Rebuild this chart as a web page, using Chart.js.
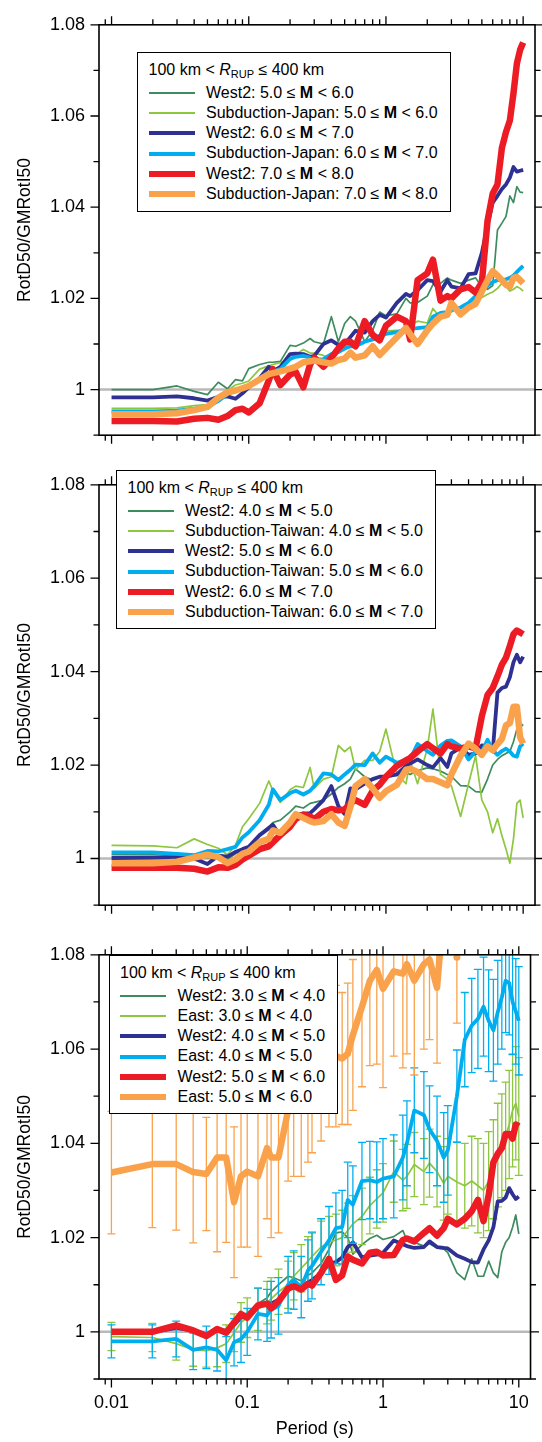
<!DOCTYPE html>
<html lang="en">
<head>
<meta charset="utf-8">
<title>RotD50/GMRotI50</title>
<script src="https://cdn.jsdelivr.net/npm/chart.js@4/dist/chart.umd.min.js"></script>
<style>
  html, body { margin: 0; padding: 0; background: #fff; }
  #page { position: relative; width: 542px; height: 1442px; overflow: hidden;
          font-family: 'Liberation Sans', Arial, Helvetica, sans-serif; color: #000; }
  #page canvas { position: absolute; left: 0; }
  .legend { position: absolute; box-sizing: border-box; border: 1.6px solid #000; background: #fff;
            padding: 7px 0 0 10.5px; font-size: 16px; line-height: 20.3px; white-space: nowrap; }
  .legend .head { height: 20.3px; margin-bottom: 2.3px; }
  .legend .head sub { font-size: 11px; line-height: 0; vertical-align: -3px; }
  .legend .row { display: flex; align-items: center; height: 20.3px; }
  .legend .swatch { display: inline-block; width: 46px; margin-right: 11.5px; flex: none; }
</style>
</head>
<body>
<div id="page">
  <canvas id="chart1" width="542" height="460" style="top:0"></canvas>
  <canvas id="chart2" width="542" height="470" style="top:460px"></canvas>
  <canvas id="chart3" width="542" height="512" style="top:930px"></canvas>
  <div class="legend" id="legend1" style="left:137px;top:52px;width:313.5px;height:160px"></div>
  <div class="legend" id="legend2" style="left:116px;top:470px;width:320px;height:159px"></div>
  <div class="legend" id="legend3" style="left:108.5px;top:955px;width:229px;height:158.5px"></div>
</div>
<script>
// spectral periods (s) shared by every curve
const periods = [0.01, 0.02, 0.03, 0.04, 0.05, 0.06, 0.07, 0.08, 0.09, 0.1,
  0.12, 0.14, 0.15, 0.17, 0.2, 0.22, 0.25, 0.28, 0.3, 0.35,
  0.4, 0.45, 0.5, 0.55, 0.6, 0.7, 0.8, 0.9, 1, 1.2,
  1.4, 1.5, 1.7, 2, 2.2, 2.5, 2.8, 3, 3.5, 4,
  4.5, 5, 5.5, 6, 6.5, 7, 7.5, 8, 8.5, 9, 9.5, 10];

// axes
const xMin = 0.0081, xMax = 12.2;
const yMin = 0.99, yMax = 1.08;
const xMajorTicks = [0.01, 0.1, 1, 10];
const xMinorTicks = [0.009, 0.02, 0.03, 0.04, 0.05, 0.06, 0.07, 0.08, 0.09,
  0.2, 0.3, 0.4, 0.5, 0.6, 0.7, 0.8, 0.9, 2, 3, 4, 5, 6, 7, 8, 9];
const yMajorTicks = [1, 1.02, 1.04, 1.06, 1.08];
const yMinorTicks = [0.99, 1.01, 1.03, 1.05, 1.07];

// top panel: West2 vs Subduction-Japan
const japanLabels = ['West2: 5.0 ≤ M < 6.0', 'Subduction-Japan: 5.0 ≤ M < 6.0', 'West2: 6.0 ≤ M < 7.0',
  'Subduction-Japan: 6.0 ≤ M < 7.0', 'West2: 7.0 ≤ M < 8.0', 'Subduction-Japan: 7.0 ≤ M < 8.0'];
const jpWest2M5 = [1.0000, 1.0000, 1.0008, 0.9996, 0.9989, 1.0016, 1.0002, 1.0022, 1.0019, 1.0046,
  1.0055, 1.0060, 1.0060, 1.0062, 1.0097, 1.0095, 1.0102, 1.0112, 1.0105, 1.0100,
  1.0160, 1.0105, 1.0145, 1.0160, 1.0150, 1.0105, 1.0130, 1.0170, 1.0162, 1.0166,
  1.0200, 1.0190, 1.0191, 1.0205, 1.0230, 1.0233, 1.0245, 1.0240, 1.0233, 1.0240,
  1.0245, 1.0225, 1.0220, 1.0228, 1.0350, 1.0365, 1.0380, 1.0425, 1.0410, 1.0445, 1.0433, 1.0432];
const jpSubM5 = [0.9959, 0.9959, 0.9960, 0.9965, 0.9967, 0.9987, 0.9998, 1.0010, 1.0014, 1.0019,
  1.0045, 1.0052, 1.0055, 1.0059, 1.0068, 1.0077, 1.0088, 1.0080, 1.0080, 1.0075,
  1.0067, 1.0085, 1.0095, 1.0098, 1.0102, 1.0105, 1.0108, 1.0112, 1.0129, 1.0130,
  1.0125, 1.0140, 1.0150, 1.0146, 1.0178, 1.0157, 1.0165, 1.0170, 1.0181, 1.0184,
  1.0195, 1.0202, 1.0209, 1.0214, 1.0222, 1.0233, 1.0226, 1.0216, 1.0220, 1.0226, 1.0222, 1.0216];
const jpWest2M6 = [0.9983, 0.9983, 0.9985, 0.9981, 0.9976, 0.9984, 0.9985, 0.9980, 0.9992, 1.0005,
  1.0025, 1.0050, 1.0040, 1.0050, 1.0078, 1.0079, 1.0078, 1.0072, 1.0074, 1.0100,
  1.0108, 1.0098, 1.0100, 1.0115, 1.0129, 1.0125, 1.0150, 1.0164, 1.0158, 1.0190,
  1.0210, 1.0205, 1.0218, 1.0240, 1.0238, 1.0215, 1.0240, 1.0226, 1.0222, 1.0253,
  1.0255, 1.0300, 1.0360, 1.0410, 1.0425, 1.0440, 1.0450, 1.0465, 1.0488, 1.0478, 1.0480, 1.0482];
const jpSubM6 = [0.9952, 0.9952, 0.9954, 0.9958, 0.9962, 0.9975, 0.9990, 1.0000, 1.0003, 1.0008,
  1.0022, 1.0035, 1.0040, 1.0045, 1.0067, 1.0072, 1.0074, 1.0070, 1.0066, 1.0067,
  1.0078, 1.0082, 1.0090, 1.0095, 1.0095, 1.0105, 1.0110, 1.0118, 1.0122, 1.0126,
  1.0132, 1.0133, 1.0135, 1.0137, 1.0160, 1.0168, 1.0170, 1.0175, 1.0180, 1.0190,
  1.0205, 1.0215, 1.0228, 1.0236, 1.0240, 1.0240, 1.0242, 1.0245, 1.0250, 1.0258, 1.0265, 1.0271];
const jpWest2M7 = [0.9931, 0.9931, 0.9930, 0.9936, 0.9938, 0.9934, 0.9942, 0.9955, 0.9958, 0.9950,
  0.9970, 1.0020, 1.0045, 1.0010, 1.0033, 1.0039, 1.0005, 1.0055, 1.0070, 1.0050,
  1.0070, 1.0090, 1.0105, 1.0105, 1.0095, 1.0150, 1.0120, 1.0108, 1.0140, 1.0160,
  1.0150, 1.0110, 1.0240, 1.0255, 1.0285, 1.0195, 1.0205, 1.0200, 1.0220, 1.0225,
  1.0213, 1.0235, 1.0370, 1.0430, 1.0450, 1.0530, 1.0565, 1.0590, 1.0650, 1.0715, 1.0745, 1.0761];
const jpSubM7 = [0.9946, 0.9946, 0.9948, 0.9955, 0.9962, 0.9982, 0.9994, 0.9998, 1.0003, 1.0008,
  1.0022, 1.0034, 1.0036, 1.0040, 1.0046, 1.0050, 1.0060, 1.0062, 1.0064, 1.0060,
  1.0057, 1.0065, 1.0068, 1.0081, 1.0070, 1.0075, 1.0095, 1.0076, 1.0090, 1.0115,
  1.0135, 1.0122, 1.0100, 1.0130, 1.0145, 1.0160, 1.0164, 1.0190, 1.0165, 1.0180,
  1.0188, 1.0215, 1.0240, 1.0260, 1.0250, 1.0240, 1.0230, 1.0226, 1.0245, 1.0247, 1.0240, 1.0233];

// middle panel: West2 vs Subduction-Taiwan
const taiwanLabels = ['West2: 4.0 ≤ M < 5.0', 'Subduction-Taiwan: 4.0 ≤ M < 5.0', 'West2: 5.0 ≤ M < 6.0',
  'Subduction-Taiwan: 5.0 ≤ M < 6.0', 'West2: 6.0 ≤ M < 7.0', 'Subduction-Taiwan: 6.0 ≤ M < 7.0'];
const twWest2M4 = [1.0008, 1.0008, 1.0006, 1.0004, 1.0002, 1.0000, 0.9998, 1.0010, 1.0018, 1.0025,
  1.0050, 1.0068, 1.0077, 1.0082, 1.0100, 1.0112, 1.0108, 1.0118, 1.0120, 1.0125,
  1.0138, 1.0152, 1.0160, 1.0170, 1.0192, 1.0175, 1.0168, 1.0175, 1.0177, 1.0178,
  1.0185, 1.0180, 1.0188, 1.0194, 1.0192, 1.0187, 1.0180, 1.0176, 1.0156, 1.0155,
  1.0143, 1.0142, 1.0170, 1.0200, 1.0212, 1.0220, 1.0225, 1.0229, 1.0250, 1.0277, 1.0280, 1.0287];
const twSubM4 = [1.0028, 1.0027, 1.0023, 1.0042, 1.0030, 1.0022, 1.0008, 1.0028, 1.0068, 1.0085,
  1.0118, 1.0166, 1.0145, 1.0120, 1.0147, 1.0155, 1.0152, 1.0195, 1.0150, 1.0170,
  1.0175, 1.0242, 1.0229, 1.0239, 1.0190, 1.0210, 1.0210, 1.0229, 1.0277, 1.0180,
  1.0160, 1.0210, 1.0160, 1.0235, 1.0320, 1.0180, 1.0170, 1.0155, 1.0090, 1.0160,
  1.0220, 1.0125, 1.0100, 1.0055, 1.0085, 1.0049, 1.0020, 0.9990, 1.0042, 1.0118, 1.0125, 1.0087];
const twWest2M5 = [1.0001, 1.0002, 1.0002, 1.0000, 0.9988, 1.0006, 1.0004, 1.0014, 1.0020, 1.0025,
  1.0050, 1.0065, 1.0072, 1.0048, 1.0077, 1.0094, 1.0096, 1.0097, 1.0105, 1.0125,
  1.0155, 1.0112, 1.0095, 1.0150, 1.0148, 1.0160, 1.0170, 1.0175, 1.0175, 1.0180,
  1.0198, 1.0203, 1.0212, 1.0200, 1.0195, 1.0215, 1.0196, 1.0225, 1.0238, 1.0222,
  1.0225, 1.0242, 1.0240, 1.0229, 1.0355, 1.0365, 1.0368, 1.0388, 1.0420, 1.0436, 1.0420, 1.0432];
const twSubM5 = [1.0013, 1.0013, 1.0010, 1.0007, 1.0016, 1.0015, 1.0020, 1.0025, 1.0045, 1.0056,
  1.0082, 1.0115, 1.0148, 1.0125, 1.0140, 1.0145, 1.0137, 1.0145, 1.0155, 1.0182,
  1.0180, 1.0168, 1.0180, 1.0190, 1.0201, 1.0200, 1.0225, 1.0205, 1.0218, 1.0205,
  1.0211, 1.0213, 1.0245, 1.0230, 1.0222, 1.0242, 1.0252, 1.0253, 1.0240, 1.0212,
  1.0229, 1.0228, 1.0254, 1.0232, 1.0222, 1.0230, 1.0235, 1.0229, 1.0220, 1.0218, 1.0240, 1.0246];
const twWest2M6 = [0.9980, 0.9980, 0.9980, 0.9978, 0.9972, 0.9981, 0.9980, 0.9986, 0.9998, 1.0006,
  1.0020, 1.0026, 1.0035, 1.0050, 1.0068, 1.0085, 1.0094, 1.0090, 1.0084, 1.0100,
  1.0106, 1.0103, 1.0105, 1.0118, 1.0125, 1.0115, 1.0145, 1.0158, 1.0175, 1.0198,
  1.0210, 1.0215, 1.0229, 1.0245, 1.0236, 1.0225, 1.0245, 1.0240, 1.0235, 1.0240,
  1.0236, 1.0305, 1.0350, 1.0365, 1.0390, 1.0415, 1.0430, 1.0455, 1.0480, 1.0488, 1.0484, 1.0480];
const twSubM6 = [0.9990, 0.9990, 0.9993, 1.0002, 1.0008, 1.0003, 0.9990, 0.9998, 1.0010, 1.0015,
  1.0035, 1.0042, 1.0060, 1.0055, 1.0077, 1.0095, 1.0087, 1.0080, 1.0077, 1.0080,
  1.0095, 1.0077, 1.0070, 1.0110, 1.0155, 1.0170, 1.0150, 1.0130, 1.0144, 1.0158,
  1.0190, 1.0192, 1.0185, 1.0170, 1.0170, 1.0163, 1.0157, 1.0180, 1.0220, 1.0246,
  1.0235, 1.0222, 1.0240, 1.0232, 1.0245, 1.0256, 1.0285, 1.0290, 1.0325, 1.0325, 1.0260, 1.0246];

// bottom panel: West2 vs East, East curves carry error bars (half-widths)
const eastLabels = ['West2: 3.0 ≤ M < 4.0', 'East: 3.0 ≤ M < 4.0', 'West2: 4.0 ≤ M < 5.0',
  'East: 4.0 ≤ M < 5.0', 'West2: 5.0 ≤ M < 6.0', 'East: 5.0 ≤ M < 6.0'];
const enaWest2M3 = [1.0000, 1.0000, 1.0010, 1.0005, 0.9995, 1.0008, 1.0005, 1.0020, 1.0035, 1.0040,
  1.0060, 1.0072, 1.0085, 1.0100, 1.0118, 1.0115, 1.0108, 1.0120, 1.0125, 1.0145,
  1.0175, 1.0210, 1.0212, 1.0200, 1.0165, 1.0185, 1.0198, 1.0205, 1.0196, 1.0202,
  1.0215, 1.0194, 1.0190, 1.0182, 1.0187, 1.0178, 1.0176, 1.0168, 1.0125, 1.0111,
  1.0155, 1.0118, 1.0118, 1.0150, 1.0125, 1.0115, 1.0170, 1.0190, 1.0200, 1.0222, 1.0248, 1.0208];
const enaEastM3 = [0.9990, 0.9988, 0.9975, 0.9962, 0.9960, 0.9966, 0.9975, 0.9998, 1.0020, 1.0030,
  1.0048, 1.0062, 1.0070, 1.0085, 1.0100, 1.0118, 1.0135, 1.0150, 1.0160, 1.0180,
  1.0190, 1.0195, 1.0200, 1.0215, 1.0229, 1.0245, 1.0268, 1.0282, 1.0295, 1.0340,
  1.0322, 1.0330, 1.0355, 1.0340, 1.0358, 1.0340, 1.0315, 1.0330, 1.0318, 1.0310,
  1.0320, 1.0310, 1.0300, 1.0320, 1.0345, 1.0375, 1.0395, 1.0415, 1.0440, 1.0470, 1.0485, 1.0457];
const enaEastM3Err = [0.0030, 0.0030, 0.0035, 0.0035, 0.0035, 0.0040, 0.0040, 0.0040, 0.0042, 0.0042,
  0.0045, 0.0045, 0.0045, 0.0048, 0.0050, 0.0050, 0.0050, 0.0052, 0.0052, 0.0055,
  0.0055, 0.0055, 0.0058, 0.0058, 0.0060, 0.0060, 0.0060, 0.0062, 0.0062, 0.0065,
  0.0065, 0.0068, 0.0068, 0.0070, 0.0072, 0.0075, 0.0078, 0.0080, 0.0085, 0.0090,
  0.0095, 0.0100, 0.0100, 0.0105, 0.0105, 0.0110, 0.0110, 0.0115, 0.0115, 0.0120, 0.0120, 0.0125];
const enaWest2M4 = [1.0000, 1.0000, 1.0008, 1.0003, 0.9995, 1.0004, 1.0000, 1.0015, 1.0030, 1.0032,
  1.0055, 1.0062, 1.0060, 1.0068, 1.0090, 1.0095, 1.0092, 1.0105, 1.0110, 1.0125,
  1.0145, 1.0148, 1.0158, 1.0180, 1.0190, 1.0158, 1.0162, 1.0164, 1.0168, 1.0194,
  1.0186, 1.0182, 1.0178, 1.0180, 1.0192, 1.0180, 1.0178, 1.0177, 1.0162, 1.0155,
  1.0148, 1.0147, 1.0175, 1.0194, 1.0222, 1.0277, 1.0278, 1.0285, 1.0305, 1.0292, 1.0282, 1.0287];
const enaEastM4 = [0.9980, 0.9980, 0.9985, 0.9962, 0.9967, 0.9962, 0.9940, 0.9978, 0.9985, 1.0000,
  1.0038, 1.0035, 1.0047, 1.0055, 1.0100, 1.0110, 1.0095, 1.0130, 1.0140, 1.0170,
  1.0194, 1.0220, 1.0222, 1.0280, 1.0270, 1.0320, 1.0322, 1.0318, 1.0325, 1.0330,
  1.0370, 1.0400, 1.0470, 1.0460, 1.0430, 1.0405, 1.0370, 1.0385, 1.0500, 1.0620,
  1.0650, 1.0664, 1.0690, 1.0660, 1.0640, 1.0678, 1.0710, 1.0745, 1.0740, 1.0700, 1.0680, 1.0660];
const enaEastM4Err = [0.0035, 0.0035, 0.0038, 0.0042, 0.0045, 0.0045, 0.0050, 0.0050, 0.0050, 0.0050,
  0.0055, 0.0055, 0.0060, 0.0060, 0.0060, 0.0062, 0.0065, 0.0065, 0.0070, 0.0070,
  0.0072, 0.0075, 0.0078, 0.0080, 0.0082, 0.0082, 0.0082, 0.0085, 0.0085, 0.0088,
  0.0090, 0.0090, 0.0090, 0.0092, 0.0092, 0.0095, 0.0095, 0.0095, 0.0098, 0.0100,
  0.0100, 0.0105, 0.0105, 0.0108, 0.0108, 0.0110, 0.0110, 0.0110, 0.0110, 0.0112, 0.0112, 0.0115];
const enaWest2M5 = [1.0000, 1.0000, 1.0014, 1.0003, 0.9991, 1.0006, 0.9998, 1.0020, 1.0038, 1.0030,
  1.0056, 1.0060, 1.0050, 1.0065, 1.0092, 1.0097, 1.0090, 1.0102, 1.0098, 1.0125,
  1.0155, 1.0110, 1.0120, 1.0160, 1.0153, 1.0145, 1.0168, 1.0170, 1.0162, 1.0163,
  1.0195, 1.0198, 1.0192, 1.0210, 1.0220, 1.0204, 1.0220, 1.0240, 1.0228, 1.0240,
  1.0256, 1.0280, 1.0235, 1.0290, 1.0360, 1.0378, 1.0390, 1.0420, 1.0420, 1.0410, 1.0440, 1.0436];
const enaEastM5 = [1.0338, 1.0356, 1.0356, 1.0339, 1.0335, 1.0370, 1.0370, 1.0275, 1.0330, 1.0340,
  1.0330, 1.0390, 1.0370, 1.0370, 1.0470, 1.0490, 1.0500, 1.0520, 1.0530, 1.0545,
  1.0565, 1.0585, 1.0580, 1.0590, 1.0630, 1.0690, 1.0745, 1.0768, 1.0728, 1.0765,
  1.0760, 1.0780, 1.0745, 1.0780, 1.0790, 1.0730, 1.0900, null, 1.0795, null,
  null, null, null, null, null, null, null, null, null, null, null, null];
const enaEastM5Err = [0.0130, 0.0135, 0.0140, 0.0150, 0.0120, 0.0200, 0.0180, 0.0160, 0.0150, 0.0160,
  0.0170, 0.0150, 0.0170, 0.0160, 0.0150, 0.0160, 0.0170, 0.0160, 0.0150, 0.0140,
  0.0130, 0.0150, 0.0140, 0.0150, 0.0160, 0.0170, 0.0180, 0.0200, 0.0210, 0.0180,
  0.0200, 0.0190, 0.0200, 0.0180, 0.0170, 0.0160, 0.0080, null, 0.0140, null,
  null, null, null, null, null, null, null, null, null, null, null, null];

const distanceHeader = '100 km &lt; <i>R</i><sub>RUP</sub> &le; 400 km';
const seriesColors = ['#3d8b5f', '#8dc63f', '#2e3192', '#00aeef', '#ed1c24', '#f9a24b'];
const seriesWidths = [1.7, 1.7, 3.8, 3.8, 6.5, 6.5];

document.addEventListener('DOMContentLoaded', () => {
    Chart.defaults.font.family = "'Liberation Sans', Arial, Helvetica, sans-serif";
    Chart.defaults.color = '#000';

    const panels = [
        { canvas: 'chart1', legend: 'legend1', labels: japanLabels, showX: false,
          padding: { left: 0, top: 13, right: 7, bottom: 13 },
          series: [jpWest2M5, jpSubM5, jpWest2M6, jpSubM6, jpWest2M7, jpSubM7], errors: [] },
        { canvas: 'chart2', legend: 'legend2', labels: taiwanLabels, showX: false,
          padding: { left: 0, top: 20, right: 7, bottom: 15 },
          series: [twWest2M4, twSubM4, twWest2M5, twSubM5, twWest2M6, twSubM6], errors: [] },
        { canvas: 'chart3', legend: 'legend3', labels: eastLabels, showX: true,
          padding: { left: 0, top: 14, right: 7, bottom: 0 },
          series: [enaWest2M3, enaEastM3, enaWest2M4, enaEastM4, enaWest2M5, enaEastM5],
          errors: [null, enaEastM3Err, null, enaEastM4Err, null, enaEastM5Err] }
    ];

    // box round the plot area, with outward ticks on all four sides
    const axisFrame = {
        id: 'axisFrame',
        afterDatasetsDraw(chart) {
            const { ctx, chartArea: area, scales: { x, y } } = chart;
            const mark = (x1, y1, x2, y2) => { ctx.moveTo(x1, y1); ctx.lineTo(x2, y2); };
            ctx.save();
            ctx.strokeStyle = '#000';
            ctx.lineWidth = 1.3;
            ctx.beginPath();
            [[xMajorTicks, 8.5], [xMinorTicks, 5.5]].forEach(([list, len]) => {
                list.forEach(v => {
                    const px = x.getPixelForValue(v);
                    mark(px, area.top, px, area.top - len);
                    mark(px, area.bottom, px, area.bottom + len);
                });
            });
            [[yMajorTicks, 8.5], [yMinorTicks, 5.5]].forEach(([list, len]) => {
                list.forEach(v => {
                    const py = y.getPixelForValue(v);
                    mark(area.left, py, area.left - len, py);
                    mark(area.right, py, area.right + len, py);
                });
            });
            ctx.stroke();
            ctx.lineWidth = 1.6;
            ctx.strokeRect(area.left, area.top, area.right - area.left, area.bottom - area.top);
            ctx.restore();
        }
    };

    const isIsolated = (vals, k) => vals[k] != null && vals[k - 1] == null && vals[k + 1] == null;

    function buildDatasets(panel) {
        const sets = [];
        panel.series.forEach((values, i) => {
            const order = 10 - 2 * i;
            sets.push({
                label: panel.labels[i],
                inLegend: true,
                data: periods.map((t, k) => ({ x: t, y: values[k] })),
                borderColor: seriesColors[i],
                borderWidth: seriesWidths[i],
                borderJoinStyle: 'round',
                pointRadius: ctx => isIsolated(values, ctx.dataIndex) ? 3.5 : 0,
                pointBackgroundColor: seriesColors[i],
                pointBorderWidth: 0,
                clip: 0,
                order
            });
            const err = panel.errors[i];
            if (err) {
                const bars = [];
                periods.forEach((t, k) => {
                    if (values[k] == null || err[k] == null) return;
                    bars.push({ x: t, y: values[k] - err[k] }, { x: t, y: values[k] + err[k] }, { x: t, y: null });
                });
                sets.push({
                    data: bars,
                    borderColor: seriesColors[i],
                    borderWidth: 1.3,
                    pointStyle: 'line',
                    pointRadius: 4,
                    pointBorderColor: seriesColors[i],
                    pointBorderWidth: 1.3,
                    clip: 0,
                    order: order + 1
                });
            }
        });
        sets.push({
            data: [{ x: xMin, y: 1 }, { x: xMax, y: 1 }],
            borderColor: '#b9b9b9',
            borderWidth: 2.5,
            pointRadius: 0,
            clip: 0,
            order: 30
        });
        return sets;
    }

    function buildLegend(chart, boxId) {
        const box = document.getElementById(boxId);
        const head = document.createElement('div');
        head.className = 'head';
        head.innerHTML = distanceHeader;
        box.appendChild(head);
        chart.data.datasets.filter(ds => ds.inLegend).forEach(ds => {
            const row = document.createElement('div');
            row.className = 'row';
            const swatch = document.createElement('span');
            swatch.className = 'swatch';
            swatch.style.background = ds.borderColor;
            swatch.style.height = ds.borderWidth + 'px';
            const text = document.createElement('span');
            const [before, after] = ds.label.split(' M ');
            const bold = document.createElement('b');
            bold.textContent = 'M';
            text.append(before + ' ', bold, ' ' + after);
            row.append(swatch, text);
            box.appendChild(row);
        });
    }

    function makeChart(panel) {
        const chart = new Chart(document.getElementById(panel.canvas), {
            type: 'line',
            data: { datasets: buildDatasets(panel) },
            options: {
                responsive: false,
                animation: false,
                devicePixelRatio: 1,
                events: [],
                layout: { padding: panel.padding },
                plugins: { legend: { display: false }, tooltip: { enabled: false } },
                scales: {
                    x: {
                        type: 'logarithmic',
                        min: xMin,
                        max: xMax,
                        display: panel.showX,
                        afterBuildTicks: s => { s.ticks = xMajorTicks.map(v => ({ value: v })); },
                        afterFit: panel.showX ? (s => { s.height = 63; }) : undefined,
                        grid: { display: false, drawTicks: false },
                        border: { display: false },
                        ticks: { autoSkip: false, maxRotation: 0, padding: 13, font: { size: 18 },
                                 callback: v => String(v) },
                        title: { display: true, text: 'Period (s)', font: { size: 18 },
                                 padding: { top: 0, bottom: 2 } }
                    },
                    y: {
                        min: yMin,
                        max: yMax,
                        afterBuildTicks: s => { s.ticks = yMajorTicks.map(v => ({ value: v })); },
                        afterFit: s => { s.width = 99; },
                        grid: { display: false, drawTicks: false },
                        border: { display: false },
                        ticks: { autoSkip: false, padding: 14, font: { size: 18 },
                                 callback: v => v === 1 ? '1' : v.toFixed(2) },
                        title: { display: true, text: 'RotD50/GMRotI50', font: { size: 17.5 },
                                 padding: { top: 14.5, bottom: 0 } }
                    }
                }
            },
            plugins: [axisFrame]
        });
        buildLegend(chart, panel.legend);
        return chart;
    }

    panels.forEach(makeChart);
});
</script>
</body>
</html>
